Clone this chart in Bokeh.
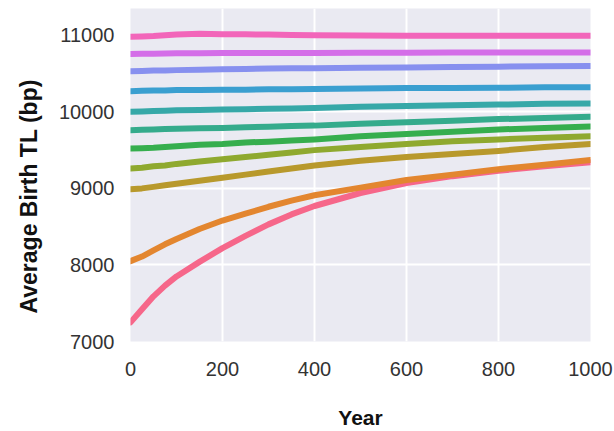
from bokeh.plotting import figure
from bokeh.models import Range1d, FixedTicker, Title
from bokeh.embed import file_html
from bokeh.resources import INLINE

years = [0, 25, 50, 75, 100, 150, 200, 250, 300, 350, 400, 500, 600, 700, 800, 900, 1000]

s01 = [7250, 7420, 7590, 7730, 7850, 8040, 8220, 8380, 8530, 8660, 8770, 8940, 9070, 9160, 9230, 9290, 9340]
s02 = [8050, 8110, 8190, 8270, 8340, 8470, 8580, 8670, 8760, 8840, 8910, 9010, 9110, 9180, 9250, 9310, 9370]
s03 = [8990, 9000, 9020, 9040, 9060, 9100, 9140, 9180, 9220, 9260, 9300, 9360, 9410, 9450, 9490, 9540, 9580]
s04 = [9260, 9270, 9290, 9300, 9320, 9350, 9380, 9410, 9440, 9470, 9500, 9540, 9580, 9615, 9640, 9660, 9680]
s05 = [9520, 9525, 9530, 9540, 9550, 9570, 9580, 9600, 9610, 9625, 9640, 9680, 9710, 9740, 9770, 9790, 9810]
s06 = [9760, 9765, 9770, 9775, 9780, 9785, 9790, 9800, 9805, 9815, 9820, 9845, 9865, 9885, 9905, 9920, 9935]
s07 = [10000, 10005, 10010, 10015, 10020, 10025, 10030, 10035, 10040, 10045, 10050, 10065, 10075, 10085, 10095, 10105, 10110]
s08 = [10270, 10275, 10280, 10280, 10285, 10285, 10290, 10290, 10295, 10295, 10300, 10305, 10310, 10310, 10315, 10320, 10320]
s09 = [10530, 10535, 10540, 10540, 10545, 10550, 10555, 10560, 10565, 10570, 10570, 10575, 10580, 10585, 10590, 10595, 10600]
s10 = [10755, 10758, 10760, 10762, 10765, 10765, 10768, 10768, 10770, 10770, 10770, 10772, 10772, 10774, 10775, 10775, 10776]
s11 = [10980, 10985, 10990, 11000, 11010, 11020, 11015, 11012, 11010, 11005, 11000, 10998, 10995, 10995, 10995, 10995, 10995]

series = [s01, s02, s03, s04, s05, s06, s07, s08, s09, s10, s11]
colors = ["#f6678a", "#e3862f", "#b8992c", "#8fa92f", "#36ae4e", "#35ab8c",
          "#36a8a8", "#3a9fd0", "#8790ef", "#d46ee8", "#f266ba"]

x_ticks = [0, 200, 400, 600, 800, 1000]
y_ticks = [7000, 8000, 9000, 10000, 11000]
y_title = "Average Birth TL (bp)"
x_title = "Year"

p = figure(width=614, height=431, output_backend="svg", toolbar_location=None,
           x_range=Range1d(0, 1000), y_range=Range1d(7000, 11350))
p.min_border_left = 129
p.min_border_right = 24
p.min_border_top = 8
p.min_border_bottom = 86
p.background_fill_color = "#eaeaf2"
p.border_fill_color = "white"
p.outline_line_color = None

for ys, c in zip(series, colors):
    p.line(years, ys, line_color=c, line_width=6, line_join="round", line_cap="round")

p.xaxis.ticker = FixedTicker(ticks=x_ticks)
p.yaxis.ticker = FixedTicker(ticks=y_ticks)
p.xgrid.ticker = FixedTicker(ticks=x_ticks)
p.ygrid.ticker = FixedTicker(ticks=y_ticks)
p.grid.grid_line_color = "white"
p.grid.grid_line_width = 2

for ax in (p.xaxis, p.yaxis):
    ax.axis_line_color = None
    ax.major_tick_line_color = None
    ax.minor_tick_line_color = None
    ax.major_tick_out = 0
    ax.major_tick_in = 0
    ax.major_label_text_font = "Liberation Sans"
    ax.major_label_text_font_size = "20px"
    ax.major_label_text_color = "#333333"
    ax.axis_label_text_font = "Liberation Sans"
    ax.axis_label_text_font_style = "bold"
    ax.axis_label_text_color = "#111111"

p.xaxis.axis_label = x_title
p.xaxis.axis_label_text_font_size = "21px"
p.xaxis.major_label_standoff = 20
p.xaxis.axis_label_standoff = 27
p.yaxis.major_label_standoff = 16

ytitle = Title(text=y_title, align="left", offset=28, standoff=27,
               text_font="Liberation Sans", text_font_style="bold",
               text_font_size="23px", text_color="#111111")
p.add_layout(ytitle, "left")

open("out.html", "w").write(file_html(p, INLINE))
